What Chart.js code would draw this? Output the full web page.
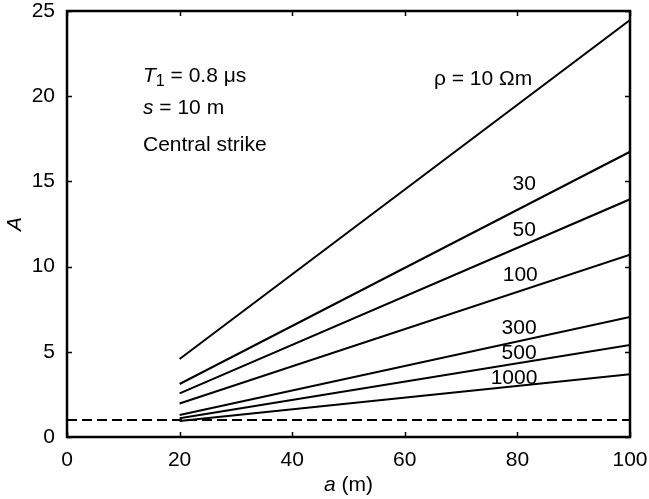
<!DOCTYPE html>
<html>
<head>
<meta charset="utf-8">
<script src="https://cdn.jsdelivr.net/npm/chart.js@4/dist/chart.umd.min.js"></script>
<style>
  body { margin: 0; background: #fff; }
  #wrap { width: 649px; height: 499px; }
</style>
</head>
<body>
<div id="wrap"><canvas id="myChart"></canvas></div>
<script>
/* globals Chart:false */

// x positions of the computed curves (m)
var aValues = [20, 100];

// A values at a = 20 and a = 100 for each soil resistivity
var rho10 = [4.58, 24.47];
var rho30 = [3.11, 16.74];
var rho50 = [2.56, 13.95];
var rho100 = [1.97, 10.70];
var rho300 = [1.29, 7.04];
var rho500 = [1.10, 5.40];
var rho1000 = [0.94, 3.68];

// reference level (dashed)
var refX = [0, 100];
var refY = [1, 1];

var xTicks = [0, 20, 40, 60, 80, 100];
var yTicks = [0, 5, 10, 15, 20, 25];

// curve labels: text, anchor in data units
var curveLabels = [
    ['\u03c1 = 10 \u03a9m', 73.9, 21.0],
    ['30', 81.2, 14.85],
    ['50', 81.2, 12.15],
    ['100', 80.5, 9.5],
    ['300', 80.3, 6.4],
    ['500', 80.3, 4.93],
    ['1000', 79.4, 3.46]
];

var FONT = '"Liberation Sans", Arial, Helvetica, sans-serif';
var SIZE = 21;

function toPoints(xs, ys) {
    return xs.map(function (x, i) { return { x: x, y: ys[i] }; });
}

function lineSet(ys) {
    return {
        data: toPoints(aValues, ys),
        showLine: true,
        borderColor: '#000',
        borderWidth: 2,
        pointRadius: 0,
        tension: 0
    };
}

// draw a row of text pieces with different fonts / offsets
function drawPieces(ctx, x, y, pieces) {
    pieces.forEach(function (p) {
        ctx.font = p.font;
        ctx.fillText(p.t, x, y + (p.dy || 0));
        x += ctx.measureText(p.t).width;
    });
}

var decorations = {
    id: 'decorations',
    afterDraw: function (chart) {
        var ctx = chart.ctx;
        var area = chart.chartArea;
        var xs = chart.scales.x, ys = chart.scales.y;
        ctx.save();

        // box
        ctx.strokeStyle = '#000';
        ctx.lineWidth = 2.5;
        ctx.strokeRect(area.left, area.top, area.right - area.left, area.bottom - area.top);

        // inward ticks on all four sides
        ctx.lineWidth = 1.5;
        ctx.beginPath();
        xTicks.forEach(function (v) {
            var px = Math.round(xs.getPixelForValue(v)) + 0.5;
            ctx.moveTo(px, area.bottom); ctx.lineTo(px, area.bottom - 5);
            ctx.moveTo(px, area.top); ctx.lineTo(px, area.top + 5);
        });
        yTicks.forEach(function (v) {
            var py = Math.round(ys.getPixelForValue(v)) + 0.5;
            ctx.moveTo(area.left, py); ctx.lineTo(area.left + 5, py);
            ctx.moveTo(area.right, py); ctx.lineTo(area.right - 5, py);
        });
        ctx.stroke();

        ctx.fillStyle = '#000';
        var normal = SIZE + 'px ' + FONT;
        var italic = 'italic ' + SIZE + 'px ' + FONT;

        // curve labels
        ctx.textAlign = 'center';
        ctx.textBaseline = 'middle';
        ctx.font = normal;
        curveLabels.forEach(function (l) {
            ctx.fillText(l[0], xs.getPixelForValue(l[1]), ys.getPixelForValue(l[2]));
        });

        // parameter text
        ctx.textAlign = 'left';
        var tx = xs.getPixelForValue(13.5);
        drawPieces(ctx, tx, ys.getPixelForValue(21.2), [
            { t: 'T', font: italic },
            { t: '1', font: '16px ' + FONT, dy: 6 },
            { t: ' = 0.8 \u03bcs', font: normal }
        ]);
        drawPieces(ctx, tx, ys.getPixelForValue(19.3), [
            { t: 's', font: italic },
            { t: ' = 10 m', font: normal }
        ]);
        drawPieces(ctx, tx, ys.getPixelForValue(17.1), [
            { t: 'Central strike', font: normal }
        ]);

        // axis titles
        ctx.font = italic;
        var w = ctx.measureText('a').width;
        ctx.font = normal;
        w += ctx.measureText(' (m)').width;
        drawPieces(ctx, (area.left + area.right) / 2 - w / 2, 485, [
            { t: 'a', font: italic },
            { t: ' (m)', font: normal }
        ]);
        ctx.translate(15, (area.top + area.bottom) / 2);
        ctx.rotate(-Math.PI / 2);
        ctx.textAlign = 'center';
        ctx.font = italic;
        ctx.fillText('A', 0, 0);

        ctx.restore();
    }
};

var ctx = document.getElementById('myChart');

var myChart = new Chart(ctx, {
    type: 'scatter',
    data: {
        datasets: [
            lineSet(rho10),
            lineSet(rho30),
            lineSet(rho50),
            lineSet(rho100),
            lineSet(rho300),
            lineSet(rho500),
            lineSet(rho1000),
            {
                data: toPoints(refX, refY),
                showLine: true,
                borderColor: '#000',
                borderWidth: 2,
                borderDash: [10, 5],
                pointRadius: 0
            }
        ]
    },
    options: {
        responsive: true,
        maintainAspectRatio: false,
        animation: false,
        layout: { padding: { top: 11, right: 19, left: 0, bottom: 0 } },
        plugins: {
            legend: { display: false },
            tooltip: { enabled: false }
        },
        scales: {
            x: {
                type: 'linear',
                min: 0,
                max: 100,
                afterBuildTicks: function (s) { s.ticks = xTicks.map(function (v) { return { value: v }; }); },
                afterFit: function (s) { s.height = 62; s.paddingLeft = 0; s.paddingRight = 0; },
                grid: { display: false, drawTicks: false },
                border: { display: false },
                ticks: { color: '#000', padding: 11, maxRotation: 0, font: { family: FONT, size: SIZE } }
            },
            y: {
                type: 'linear',
                min: 0,
                max: 25,
                afterBuildTicks: function (s) { s.ticks = yTicks.map(function (v) { return { value: v }; }); },
                afterFit: function (s) { s.width = 67; s.paddingTop = 0; s.paddingBottom = 0; },
                grid: { display: false, drawTicks: false },
                border: { display: false },
                ticks: { color: '#000', padding: 12, font: { family: FONT, size: SIZE } }
            }
        }
    },
    plugins: [decorations]
});
</script>
</body>
</html>
